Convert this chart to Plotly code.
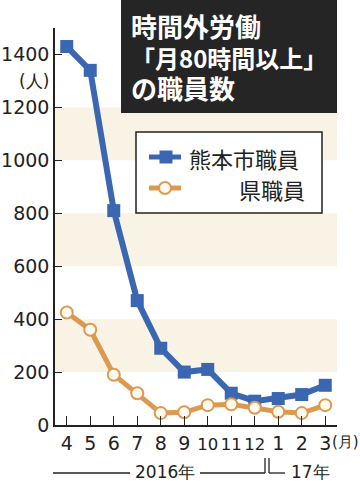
import plotly.graph_objects as go

months = ["4", "5", "6", "7", "8", "9", "10", "11", "12", "1", "2", "3"]
month_labels = ["4", "5", "6", "7", "8", "9", "10", "11", "12", "1", "2", "3"]
kumamoto_city = [1430, 1340, 810, 470, 290, 200, 210, 120, 90, 100, 115, 150]
prefecture = [425, 360, 190, 120, 45, 48, 75, 78, 65, 50, 45, 75]
y_tickvals = [0, 200, 400, 600, 800, 1000, 1200, 1400, 1500]
y_ticktext = ["0", "200", "400", "600", "800", "1000", "1200", "1400", ""]
bands = [(200, 400), (600, 800), (1000, 1200)]
title_lines = ["時間外労働", "「月80時間以上」", "の職員数"]

W, H = 360, 485
L, R, T, B = 55, 23, 28, 60
PW, PH = W - L - R, H - T - B

def px(x):
    return (x - L) / PW

def py(y):
    return (H - B - y) / PH

BLUE = "#3b66b2"
ORANGE = "#dc9a50"
BAND = "#f8f3e5"
JP = "Noto Sans CJK JP"
NUM = "DejaVu Sans"

fig = go.Figure()
fig.add_trace(go.Scatter(
    x=months, y=kumamoto_city, mode="lines+markers", name="熊本市職員",
    line=dict(color=BLUE, width=6),
    marker=dict(symbol="square", size=13, color=BLUE),
    showlegend=False, cliponaxis=False))
fig.add_trace(go.Scatter(
    x=months, y=prefecture, mode="lines+markers", name="県職員",
    line=dict(color=ORANGE, width=5),
    marker=dict(symbol="circle", size=12, color="#fffaf0",
                line=dict(color=ORANGE, width=2)),
    showlegend=False, cliponaxis=False))

shapes = []
for y0, y1 in bands:
    shapes.append(dict(type="rect", xref="paper", yref="y", x0=0, x1=1,
                       y0=y0, y1=y1, fillcolor=BAND, line=dict(width=0),
                       layer="below"))
# title box
shapes.append(dict(type="rect", xref="paper", yref="paper",
                   x0=px(121), x1=px(337), y0=py(113), y1=py(0),
                   fillcolor="#252525", line=dict(width=0)))
# legend box
shapes.append(dict(type="rect", xref="paper", yref="paper",
                   x0=px(136), x1=px(322), y0=py(213), y1=py(132),
                   fillcolor="white", line=dict(color="#222", width=1.5)))
shapes.append(dict(type="line", xref="paper", yref="paper",
                   x0=px(149), x1=px(181), y0=py(157), y1=py(157),
                   line=dict(color=BLUE, width=5)))
shapes.append(dict(type="rect", xref="paper", yref="paper",
                   x0=px(159.5), x1=px(172.5), y0=py(163.5), y1=py(150.5),
                   fillcolor=BLUE, line=dict(width=0)))
shapes.append(dict(type="line", xref="paper", yref="paper",
                   x0=px(149), x1=px(181), y0=py(188), y1=py(188),
                   line=dict(color=ORANGE, width=5)))
shapes.append(dict(type="circle", xref="paper", yref="paper",
                   x0=px(159), x1=px(171), y0=py(194), y1=py(182),
                   fillcolor="#fffaf0", line=dict(color=ORANGE, width=2)))
# year brackets
lc = dict(color="#222", width=1.3)
for (x0, y0, x1, y1) in [(53, 473, 130, 473), (200, 473, 265, 473),
                         (265, 458, 265, 473), (269, 458, 269, 473),
                         (269, 473, 285, 473)]:
    shapes.append(dict(type="line", xref="paper", yref="paper",
                       x0=px(x0), x1=px(x1), y0=py(y0), y1=py(y1), line=lc))

annotations = []
def ann(text, x, y, size, color="#222", family=JP, xanchor="center",
        yanchor="middle", align="center"):
    annotations.append(dict(text=text, xref="paper", yref="paper",
                            x=px(x), y=py(y), xanchor=xanchor, yanchor=yanchor,
                            align=align, showarrow=False,
                            font=dict(family=family, size=size, color=color)))

title_html = "<br>".join([
    f"<b><span style='font-size:26px'>{title_lines[0]}</span></b>",
    f"<b>{title_lines[1]}</b>",
    f"<b><span style='font-size:26px'>{title_lines[2]}</span></b>",
])
ann(title_html, 129, 57, 24, "white", xanchor="left", align="left")
ann("熊本市職員", 187, 158, 22, xanchor="left")
ann("県職員", 307, 189, 22, xanchor="right")
ann("(人)", 34, 81, 17, family=NUM)
ann("(月)", 345, 442, 15, family=NUM)
ann("2016年", 165, 472, 17, family=NUM)
ann("17年", 310, 472, 17, family=NUM)

ticktext = [t if len(t) == 1 else f"<span style='font-size:16.5px'>{t}</span>"
            for t in month_labels]

fig.update_layout(
    width=W, height=H,
    margin=dict(l=L, r=R, t=T, b=B, autoexpand=False),
    paper_bgcolor="white", plot_bgcolor="white",
    shapes=shapes, annotations=annotations,
    xaxis=dict(type="category", categoryorder="array", categoryarray=months,
               range=[-0.5, 11.5], tickvals=months, ticktext=ticktext,
               ticks="inside", ticklen=9, tickwidth=1.3, tickcolor="#222",
               showline=True, linecolor="#222", linewidth=1.5,
               showgrid=False, zeroline=False, automargin=False,
               tickfont=dict(family=NUM, size=19, color="#222")),
    yaxis=dict(range=[0, 1500], tickvals=y_tickvals, ticktext=y_ticktext,
               ticks="inside", ticklen=7, tickwidth=1.3, tickcolor="#222",
               showline=True, linecolor="#222", linewidth=1.5,
               showgrid=False, zeroline=False, automargin=False,
               tickfont=dict(family=NUM, size=19, color="#222")),
)

fig.write_html("out.html", config={"displayModeBar": False},
               post_script="document.body.style.margin='0';")
